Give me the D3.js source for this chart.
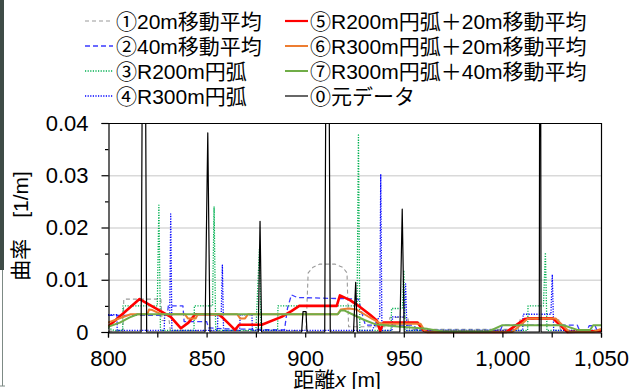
<!DOCTYPE html>
<html>
<head>
<meta charset="utf-8">
<script src="https://cdn.jsdelivr.net/npm/d3@7"></script>
<style>
  html, body { margin: 0; padding: 0; background: #fff; }
  svg { display: block; }
</style>
</head>
<body>
<div id="chart"></div>
<script>
// ── Data (distance x [m], curvature [1/m]) ──
const xTicks = [800, 850, 900, 950, 1000, 1050];
const yTicks = [0, 0.01, 0.02, 0.03, 0.04];

const ma20 = [[800,0.0002],[807.6,0.0002],[808,0.0063],[826.8,0.0063],[827.4,0.0022],[831,0.0022],[831.6,0.0003],
  [900.4,0.0003],[901.5,0.0113],[904,0.0124],[907.5,0.013],[915,0.013],[919,0.0124],[921.2,0.0113],[922,0.001],
  [942,0.001],[943,0.0028],[952,0.0028],[953,0.0005],[1008,0.0005],[1009,0.0024],[1028.5,0.0024],[1029.5,0.0003],[1050,0.0003]];

const ma40 = [[800,0.0032],[830,0.0032],[830.6,0.005],[838,0.005],[838.6,0.002],[850,0.002],[851,0.0008],[860,0.0006],
  [889.5,0.0004],[891,0.0045],[893,0.0071],[896,0.0066],[927,0.0063],[928.5,0.004],[930.5,0.0013],[955,0.0013],
  [957,0.0003],[999,0.0003],[1000,0.0013],[1038,0.0013],[1039,0.0004],[1043,0.0004],[1044,0.0012],[1047,0.0012],
  [1048,0.0003],[1050,0.0003]];

const arc200 = [[800,0.0008],[803,0.0003],[807.4,0.0003],[807.6,0.005],[825,0.005],[825.8,0.0243],[826.6,0.0003],
  [843.6,0.0003],[843.8,0.005],[853,0.005],[853.8,0.024],[854.6,0.0003],[875,0.0003],[876.8,0.016],[877.6,0.0003],
  [886,0.0003],[886.2,0.005],[926.3,0.005],[927,0.0377],[927.7,0.0003],[943.5,0.0003],[943.8,0.0045],[949.3,0.0045],
  [950,0.0118],[950.7,0.0003],[1012.8,0.0003],[1013,0.005],[1020.8,0.005],[1021.8,0.0152],[1022.6,0.0003],[1050,0.0003]];

const arc300 = [[800,0.0033],[804.5,0.0033],[804.7,0.0003],[828.5,0.0003],[828.7,0.0033],[831.3,0.0033],[831.8,0.0226],
  [832.4,0.0003],[855.5,0.0003],[855.7,0.0033],[857.4,0.0033],[858,0.0128],[858.6,0.0003],[866.8,0.0003],[867,0.0033],
  [873,0.0033],[873.2,0.0003],[934,0.0003],[936,0.002],[937.8,0.003],[938.3,0.0302],[938.9,0.0003],[944,0.0003],
  [944.3,0.0029],[950.2,0.0029],[950.9,0.0092],[951.6,0.0003],[1010.3,0.0003],[1010.5,0.0034],[1024.6,0.0034],
  [1025.3,0.011],[1026,0.0003],[1050,0.0003]];

const arc200ma20 = [[800,0.001],[816,0.0063],[831.8,0.0029],[837,0.0007],[840.8,0.0018],[844.2,0.0034],[856,0.0034],
  [858,0.0028],[864.4,0.0004],[866.5,0.0014],[878,0.0014],[888,0.0029],[893,0.004],[897,0.005],[916,0.005],
  [917.6,0.007],[922.7,0.0061],[927.8,0.0048],[932.9,0.0033],[936.3,0.0022],[938,0.0002],[939.6,0.0018],[957,0.0018],
  [960,0.0003],[962,0],[1002,0],[1011.5,0.0025],[1013,0.0026],[1025.6,0.0026],[1033,0],[1050,0.0002]];

const arc300ma20 = [[800,0.0018],[811.5,0.0034],[820,0.0034],[820.8,0.0043],[822.5,0.0042],[827,0.0034],[839,0.0034],
  [840.5,0.0026],[844.5,0.0026],[845.5,0.0034],[865.5,0.0034],[867,0.0026],[869.5,0.0026],[871,0.0034],[916.5,0.0034],
  [918,0.0043],[922,0.0045],[926,0.0043],[930,0.0034],[934,0.0025],[937.5,0.0018],[939.5,0.0016],[958.5,0.0016],
  [961,0],[1005,0],[1013,0.0026],[1027,0.0026],[1034,0],[1046,0],[1050,0.0006]];

const arc300ma40 = [[800,0.001],[806,0.0018],[811,0.0028],[815,0.0034],[916.5,0.0034],[918,0.0041],[920,0.0041],
  [924.4,0.0033],[930,0.0023],[935.4,0.0015],[945.5,0.0011],[955,0.0008],[962,0.0006],[970,0.0001],[993,0.0001],
  [1000,0.0013],[1031,0.0013],[1038,0.0004],[1044.5,0.0004],[1046,0.0013],[1050,0.0013]];

const rawData = [[800,0],[816.8,0],[818.2,0.12],[819.6,0],[849.2,0],[850.6,0.0381],[851.7,0],[876.2,0],[877.1,0.0212],
  [877.9,0],[898.2,0],[898.9,0.0039],[900.4,0.0039],[900.9,0],[909.9,0],[911.3,0.12],[912.7,0],[924.5,0],
  [925.6,0.0095],[926.4,0],[948,0],[949.2,0.0235],[950.2,0],[1018.7,0],[1019.15,0.12],[1019.6,0],[1050,0]];

const seriesNames = ["①20m移動平均","②40m移動平均","③R200m円弧","④R300m円弧",
  "⑤R200m円弧＋20m移動平均","⑥R300m円弧＋20m移動平均","⑦R300m円弧＋40m移動平均","⓪元データ"];
const seriesData = [ma20, ma40, arc200, arc300, arc200ma20, arc300ma20, arc300ma40, rawData];

// ── Styles ──
const STYLES = [
  { color: "#9a9a9a", width: 1.1, dash: "4,3" },
  { color: "#3a3aff", width: 1.3, dash: "5,3" },
  { color: "#00b050", width: 1.3, dash: "1.2,1.4" },
  { color: "#0000ff", width: 1.3, dash: "1.2,1.4" },
  { color: "#ff0000", width: 2.6, dash: null },
  { color: "#ed7d31", width: 2,   dash: null },
  { color: "#70ad47", width: 2,   dash: null },
  { color: "#000000", width: 1.2, dash: null },
];

const W = 635, H = 389;
const M = { left: 108, right: 601, top: 123, bottom: 332 };
const FONT = "'Liberation Sans', Arial, 'Noto Sans CJK JP', sans-serif";

const svg = d3.select("#chart").append("svg")
  .attr("width", W).attr("height", H)
  .style("font-family", FONT);

// photo edge on the left
svg.append("rect").attr("x", 0).attr("y", 0).attr("width", 4).attr("height", 270).attr("fill", "#3e4c47");
svg.append("line").attr("x1", 2.5).attr("x2", 2.5).attr("y1", 270).attr("y2", 386)
  .attr("stroke", "#7d8a85").attr("stroke-width", 1);
svg.append("line").attr("x1", 0).attr("x2", 5).attr("y1", 386).attr("y2", 386)
  .attr("stroke", "#7d8a85").attr("stroke-width", 1);

const x = d3.scaleLinear().domain([800, 1050]).range([M.left, M.right]);
const y = d3.scaleLinear().domain([0, 0.04]).range([M.bottom, M.top]);

// grid
svg.append("g").selectAll("line")
  .data(yTicks.filter(d => d > 0 && d < 0.04))
  .join("line")
  .attr("x1", M.left).attr("x2", M.right)
  .attr("y1", d => y(d) + 0.5).attr("y2", d => y(d) + 0.5)
  .attr("stroke", "#d9d9d9").attr("stroke-width", 1.3);

// clip
svg.append("defs").append("clipPath").attr("id", "plot-clip")
  .append("rect").attr("x", M.left).attr("y", M.top)
  .attr("width", M.right - M.left).attr("height", M.bottom - M.top + 2);

const line = d3.line().x(d => x(d[0])).y(d => y(d[1]));
const plot = svg.append("g").attr("clip-path", "url(#plot-clip)");
seriesData.forEach((data, i) => {
  const s = STYLES[i];
  plot.append("path")
    .attr("d", line(data))
    .attr("fill", "none")
    .attr("stroke", s.color)
    .attr("stroke-width", s.width)
    .attr("stroke-dasharray", s.dash)
    .attr("stroke-linejoin", "round");
});

// frame (top / right)
svg.append("line").attr("x1", M.left).attr("x2", M.right + 0.5).attr("y1", M.top + 0.5).attr("y2", M.top + 0.5)
  .attr("stroke", "#000").attr("stroke-width", 1.2);
svg.append("line").attr("x1", M.right + 0.5).attr("x2", M.right + 0.5).attr("y1", M.top).attr("y2", M.bottom)
  .attr("stroke", "#000").attr("stroke-width", 1.2);

// x axis
const xAxis = d3.axisBottom(x)
  .tickValues(d3.range(800, 1051, 25))
  .tickSize(5).tickPadding(13)
  .tickFormat(d => xTicks.includes(d) ? d3.format(",")(d) : "");
const gx = svg.append("g").attr("transform", `translate(0,${M.bottom + 0.5})`).call(xAxis);
gx.select(".domain").attr("stroke", "#000").attr("stroke-width", 1.2);
gx.selectAll(".tick line").attr("stroke", "#000").attr("stroke-width", 1.2);
gx.selectAll("text").attr("font-size", 22).attr("fill", "#000").style("font-family", FONT);

// y axis
const yAxis = d3.axisLeft(y)
  .tickValues(yTicks)
  .tickSize(7).tickPadding(13)
  .tickFormat(d => d === 0 ? "0" : d3.format(".2f")(d));
const gy = svg.append("g").attr("transform", `translate(${M.left + 0.5},0)`).call(yAxis);
gy.select(".domain").attr("stroke", "#000").attr("stroke-width", 1.2);
gy.selectAll(".tick line").attr("stroke", "#000").attr("stroke-width", 1.2);
gy.selectAll("text").attr("font-size", 22).attr("fill", "#000").style("font-family", FONT);
gy.append("g").selectAll("line")
  .data(d3.range(0.005, 0.04, 0.01))
  .join("line")
  .attr("x1", -3.5).attr("x2", 0)
  .attr("y1", d => y(d) + 0.5).attr("y2", d => y(d) + 0.5)
  .attr("stroke", "#000").attr("stroke-width", 1.2);

// axis titles
const xt = svg.append("text")
  .attr("x", 337).attr("y", 387)
  .attr("text-anchor", "middle")
  .attr("font-size", 21).attr("fill", "#000");
xt.append("tspan").text("距離");
xt.append("tspan").attr("font-style", "italic").text("x");
xt.append("tspan").text(" [m]");

svg.append("text")
  .attr("transform", "translate(28,226) rotate(-90)")
  .attr("text-anchor", "middle")
  .attr("font-size", 21).attr("fill", "#000")
  .text("曲率　[1/m]");

// legend
const legendCols = [
  { lineX: [85, 113], textX: 116 },
  { lineX: [285, 308], textX: 310 },
];
const rowY = [21, 46, 71, 96];
const legend = svg.append("g");
seriesNames.forEach((name, i) => {
  const col = legendCols[Math.floor(i / 4)];
  const yy = rowY[i % 4];
  const s = STYLES[i];
  legend.append("line")
    .attr("x1", col.lineX[0]).attr("x2", col.lineX[1])
    .attr("y1", yy).attr("y2", yy)
    .attr("stroke", s.color)
    .attr("stroke-width", Math.min(s.width, 2.2))
    .attr("stroke-dasharray", s.dash);
  legend.append("text")
    .attr("x", col.textX).attr("y", yy).attr("dy", "0.36em")
    .attr("font-size", 21).attr("fill", "#000")
    .text(name);
});
</script>
</body>
</html>
